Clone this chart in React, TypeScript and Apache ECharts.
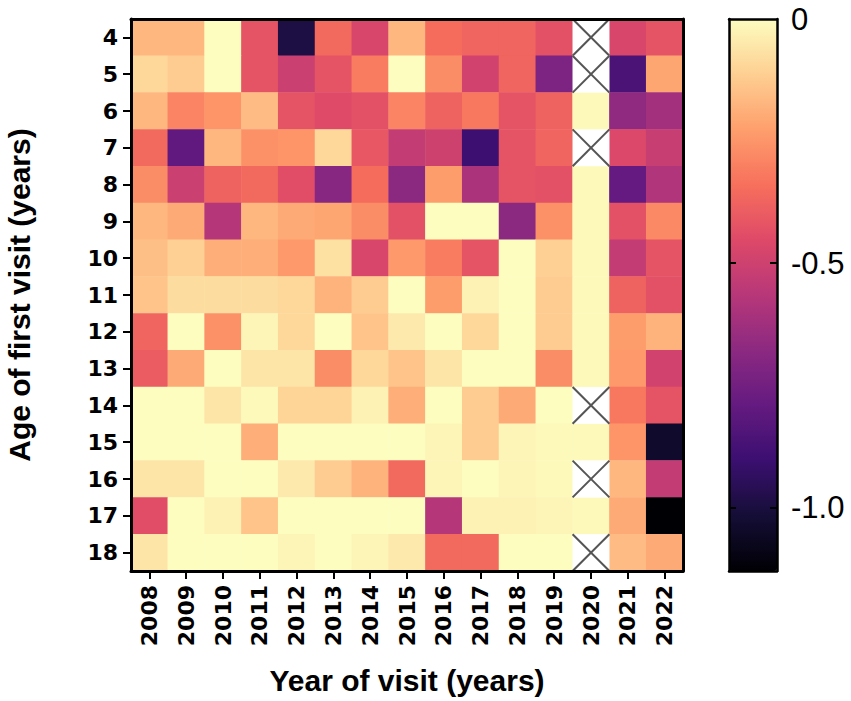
import React, { useEffect, useRef } from "react";
import * as echarts from "echarts";

const years = ["2008","2009","2010","2011","2012","2013","2014","2015","2016","2017","2018","2019","2020","2021","2022"];
const ages = ["4","5","6","7","8","9","10","11","12","13","14","15","16","17","18"];

// rows = age of first visit (4..18), columns = year of visit (2008..2022); null = no data (crossed cell)
const r4 = [-0.17,-0.17,0,-0.42,-0.99,-0.36,-0.47,-0.17,-0.35,-0.37,-0.37,-0.43,null,-0.47,-0.42];
const r5 = [-0.09,-0.12,0,-0.42,-0.51,-0.42,-0.31,0,-0.27,-0.49,-0.37,-0.72,null,-0.86,-0.21];
const r6 = [-0.17,-0.29,-0.25,-0.16,-0.42,-0.45,-0.43,-0.29,-0.38,-0.32,-0.42,-0.38,-0.01,-0.67,-0.62];
const r7 = [-0.36,-0.80,-0.17,-0.26,-0.25,-0.09,-0.41,-0.53,-0.50,-0.90,-0.42,-0.37,null,-0.46,-0.52];
const r8 = [-0.27,-0.51,-0.38,-0.36,-0.44,-0.69,-0.35,-0.68,-0.23,-0.60,-0.42,-0.43,-0.01,-0.79,-0.58];
const r9 = [-0.17,-0.20,-0.57,-0.17,-0.20,-0.21,-0.27,-0.43,0,0,-0.68,-0.26,-0.01,-0.43,-0.28];
const r10 = [-0.15,-0.11,-0.19,-0.19,-0.24,-0.07,-0.47,-0.24,-0.31,-0.42,0,-0.11,-0.01,-0.53,-0.42];
const r11 = [-0.14,-0.08,-0.08,-0.08,-0.09,-0.18,-0.12,0,-0.23,-0.03,0,-0.12,-0.01,-0.38,-0.43];
const r12 = [-0.37,0,-0.26,-0.02,-0.09,0,-0.14,-0.05,0,-0.09,0,-0.12,-0.01,-0.23,-0.18];
const r13 = [-0.40,-0.20,0,-0.06,-0.06,-0.27,-0.09,-0.14,-0.06,0,0,-0.27,-0.01,-0.24,-0.49];
const r14 = [0,0,-0.06,-0.01,-0.10,-0.10,-0.03,-0.19,0,-0.12,-0.20,0,null,-0.32,-0.42];
const r15 = [0,0,0,-0.19,0,0,0,0,-0.02,-0.12,-0.02,-0.01,-0.01,-0.25,-1.04];
const r16 = [-0.06,-0.06,0,0,-0.05,-0.12,-0.18,-0.36,-0.02,0,-0.02,-0.01,null,-0.17,-0.53];
const r17 = [-0.44,0,-0.03,-0.14,0,0,0,0,-0.57,-0.03,-0.03,-0.02,-0.01,-0.20,-1.13];
const r18 = [-0.06,0,0,0,-0.02,0,-0.02,-0.05,-0.36,-0.36,0,0,null,-0.16,-0.20];

const rows = [r4, r5, r6, r7, r8, r9, r10, r11, r12, r13, r14, r15, r16, r17, r18];

const colorMin = -1.13;
const colorMax = 0;
const colorbarLabels = [0, -0.5, -1.0];
const colorbarTicks = [-0.5, -1.0];

const magma = ["#000004","#140e36","#3b0f70","#641a80","#8c2981","#b73779","#de4968","#f7705c","#fe9f6d","#fecf92","#fcfdbf"];

export default function App() {
  const ref = useRef<HTMLDivElement>(null);
  useEffect(() => {
    if (!ref.current) return;
    const chart = echarts.init(ref.current, null, { renderer: "svg" });
    const heat: any[] = [];
    const missing: any[] = [];
    rows.forEach((row, yi) => {
      row.forEach((v, xi) => {
        if (v === null) missing.push([xi, yi]);
        else heat.push([xi, yi, v]);
      });
    });
    const font = "'Liberation Sans', Arial, sans-serif";
    const tickFont = "'DejaVu Sans', 'Liberation Sans', sans-serif";
    const axisLine = { show: true, lineStyle: { color: "#000", width: 3 } };
    const barLine = { show: true, onZero: false, lineStyle: { color: "#000", width: 2.5 } };
    const option: any = {
      animation: false,
      backgroundColor: "#fff",
      grid: [
        { left: 131, top: 19, width: 552, height: 552, outerBoundsMode: "none", containLabel: false },
        { left: 729, top: 19, width: 48, height: 552, outerBoundsMode: "none", containLabel: false },
      ],
      xAxis: [
        {
          type: "category", gridIndex: 0, data: years, position: "bottom",
          axisLine, axisTick: { show: true, length: 8, alignWithLabel: true, lineStyle: { color: "#000", width: 2 } },
          axisLabel: { rotate: 90, color: "#000", fontFamily: tickFont, fontWeight: "bold", fontSize: 22, margin: 14, interval: 0 },
          splitLine: { show: false },
          name: "Year of visit (years)", nameLocation: "middle", nameGap: 94,
          nameTextStyle: { color: "#000", fontFamily: font, fontWeight: "bold", fontSize: 30 },
          z: 10,
        },
        {
          type: "category", gridIndex: 0, data: years, position: "top",
          axisLine, axisTick: { show: false }, axisLabel: { show: false }, z: 10,
        },
        {
          type: "value", gridIndex: 1, min: 0, max: 1, position: "bottom",
          axisLine: barLine, axisTick: { show: false }, axisLabel: { show: false }, splitLine: { show: false }, z: 10,
        },
        {
          type: "value", gridIndex: 1, min: 0, max: 1, position: "top",
          axisLine: barLine, axisTick: { show: false }, axisLabel: { show: false }, splitLine: { show: false }, z: 10,
        },
      ],
      yAxis: [
        {
          type: "category", gridIndex: 0, data: ages, inverse: true, position: "left",
          axisLine, axisTick: { show: true, length: 8, alignWithLabel: true, lineStyle: { color: "#000", width: 2 } },
          axisLabel: { color: "#000", fontFamily: tickFont, fontWeight: "bold", fontSize: 22, margin: 13, interval: 0 },
          splitLine: { show: false },
          name: "Age of first visit (years)", nameLocation: "middle", nameGap: 97,
          nameTextStyle: { color: "#000", fontFamily: font, fontWeight: "bold", fontSize: 30 },
          z: 10,
        },
        {
          type: "category", gridIndex: 0, data: ages, inverse: true, position: "right",
          axisLine, axisTick: { show: false }, axisLabel: { show: false }, z: 10,
        },
        {
          type: "value", gridIndex: 1, min: colorMin, max: colorMax, position: "left",
          axisLine: barLine,
          axisTick: { show: true, inside: true, length: 7, customValues: colorbarTicks, lineStyle: { color: "#000", width: 2 } },
          axisLabel: { show: false }, splitLine: { show: false }, z: 10,
        },
        {
          type: "value", gridIndex: 1, min: colorMin, max: colorMax, position: "right",
          axisLine: barLine,
          axisTick: { show: true, inside: true, length: 7, customValues: colorbarTicks, lineStyle: { color: "#000", width: 2 } },
          axisLabel: {
            show: true, customValues: colorbarLabels, color: "#000", fontFamily: font, fontSize: 31, margin: 14,
            formatter: (v: number) => (v === 0 ? "0" : v.toFixed(1)),
          },
          splitLine: { show: false }, z: 10,
        },
      ],
      visualMap: {
        type: "continuous", min: colorMin, max: colorMax, seriesIndex: 0,
        inRange: { color: magma },
        left: 729, top: 19, itemWidth: 48, itemHeight: 552, padding: 0,
        showLabel: false, calculable: false, hoverLink: false, orient: "vertical",
      },
      series: [
        {
          type: "heatmap", xAxisIndex: 0, yAxisIndex: 0, data: heat,
          itemStyle: { borderWidth: 0 },
          emphasis: { disabled: true },
        },
        {
          type: "custom", xAxisIndex: 0, yAxisIndex: 0, data: missing,
          renderItem: (params: any, api: any) => {
            const p = api.coord([api.value(0), api.value(1)]);
            const s = api.size([1, 1]);
            const x0 = p[0] - s[0] / 2, x1 = p[0] + s[0] / 2;
            const y0 = p[1] - s[1] / 2, y1 = p[1] + s[1] / 2;
            const st = { stroke: "#555", lineWidth: 2 };
            return {
              type: "group",
              children: [
                { type: "rect", shape: { x: x0, y: y0, width: s[0], height: s[1] }, style: { fill: "#fff" } },
                { type: "line", shape: { x1: x0, y1: y0, x2: x1, y2: y1 }, style: st },
                { type: "line", shape: { x1: x1, y1: y0, x2: x0, y2: y1 }, style: st },
              ],
            };
          },
        },
      ],
    };
    chart.setOption(option);
    return () => chart.dispose();
  }, []);
  return <div ref={ref} style={{ position: "absolute", left: 0, top: 0, width: 851, height: 701 }} />;
}
